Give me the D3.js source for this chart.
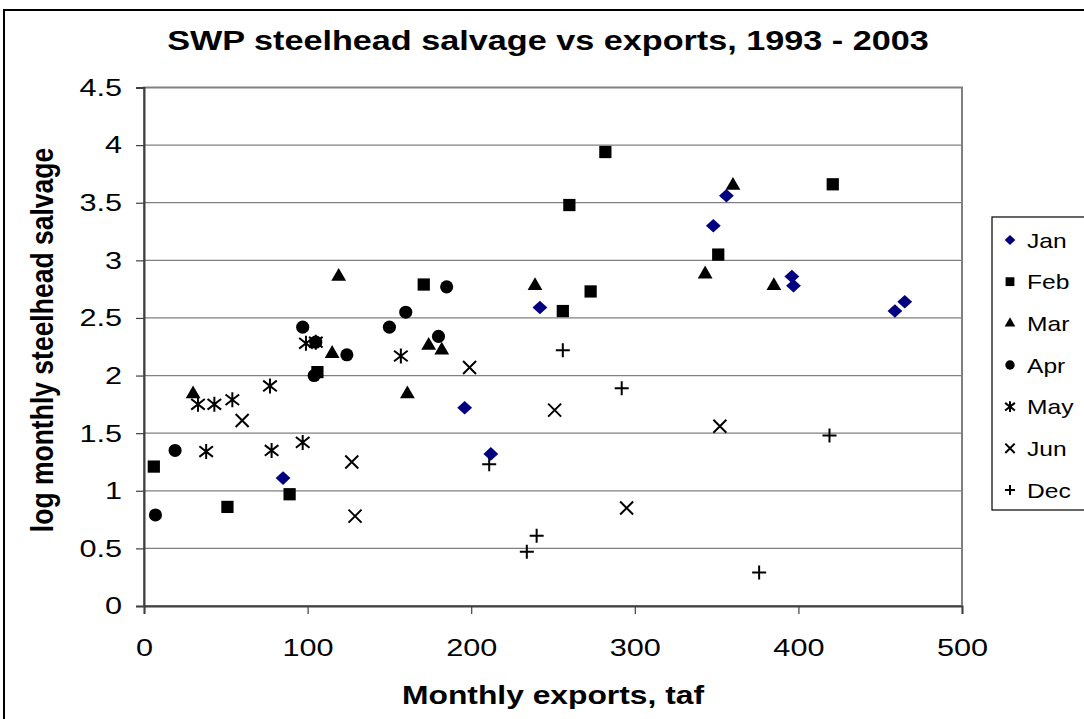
<!DOCTYPE html>
<html>
<head>
<meta charset="utf-8">
<script src="https://cdn.jsdelivr.net/npm/d3@7/dist/d3.min.js"></script>
<style>
  body { margin: 0; background: #fff; }
  svg { display: block; }
  text { font-family: "Liberation Sans", Arial, sans-serif; fill: #000; }
</style>
</head>
<body>
<svg id="chart" width="1084" height="719"></svg>
<script>
// Monthly exports (taf) vs log10 monthly steelhead salvage, SWP 1993-2003
const seriesNames = ["Jan", "Feb", "Mar", "Apr", "May", "Jun", "Dec"];

const janPoints = [[85, 1.11], [196, 1.72], [212, 1.32], [242, 2.59], [348, 3.30],
                   [356, 3.56], [396, 2.86], [397, 2.78], [459, 2.56], [465, 2.64]];
const febPoints = [[6, 1.21], [51, 0.86], [89, 0.97], [106, 2.03], [171, 2.79],
                   [256, 2.56], [260, 3.48], [273, 2.73], [282, 3.94], [351, 3.05], [421, 3.66]];
const marPoints = [[30, 1.84], [119, 2.86], [115, 2.19], [161, 1.84], [174, 2.26],
                   [182, 2.22], [239, 2.78], [343, 2.88], [360, 3.65], [385, 2.78]];
const aprPoints = [[7, 0.79], [19, 1.35], [97, 2.42], [104, 2.00], [105, 2.29],
                   [124, 2.18], [150, 2.42], [160, 2.55], [180, 2.34], [185, 2.77]];
const mayPoints = [[33, 1.75], [43, 1.75], [54, 1.79], [38, 1.34], [77, 1.91],
                   [78, 1.35], [97, 1.42], [99, 2.28], [105, 2.29], [157, 2.17]];
const junPoints = [[60, 1.61], [127, 1.25], [129, 0.78], [199, 2.07], [251, 1.70],
                   [295, 0.85], [352, 1.56]];
const decPoints = [[211, 1.23], [234, 0.47], [240, 0.61], [256, 2.22], [292, 1.89],
                   [376, 0.29], [419, 1.48]];

const xTicks = [0, 100, 200, 300, 400, 500];
const yTicks = [0, 0.5, 1, 1.5, 2, 2.5, 3, 3.5, 4, 4.5];

const titleText = "SWP steelhead salvage vs exports, 1993 - 2003";
const xTitle = "Monthly exports, taf";
const yTitle = "log monthly steelhead salvage";

const series = [
  { name: seriesNames[0], points: janPoints, marker: "diamond",  color: "#000080" },
  { name: seriesNames[1], points: febPoints, marker: "square",   color: "#000" },
  { name: seriesNames[2], points: marPoints, marker: "triangle", color: "#000" },
  { name: seriesNames[3], points: aprPoints, marker: "circle",   color: "#000" },
  { name: seriesNames[4], points: mayPoints, marker: "star",     color: "#000" },
  { name: seriesNames[5], points: junPoints, marker: "cross",    color: "#000" },
  { name: seriesNames[6], points: decPoints, marker: "plus",     color: "#000" }
];

// Text in this chart is rendered slightly wide
const SX = 1.2;
const TICK_SX = 1.25;

const svg = d3.select("#chart");
const plot = { left: 144, right: 962, top: 87.5, bottom: 606 };

const x = d3.scaleLinear().domain([0, 500]).range([plot.left, plot.right]);
const y = d3.scaleLinear().domain([0, 4.5]).range([plot.bottom, plot.top]);

// outer chart frame
svg.append("path")
  .attr("d", "M4,719 L4,10 L1084,10")
  .attr("fill", "none").attr("stroke", "#000").attr("stroke-width", 2);

// plot area
svg.append("rect")
  .attr("x", plot.left).attr("y", plot.top)
  .attr("width", plot.right - plot.left).attr("height", plot.bottom - plot.top)
  .attr("fill", "#fff").attr("stroke", "#808080").attr("stroke-width", 2);

// horizontal gridlines
svg.append("g").selectAll("line")
  .data(yTicks.filter(d => d > 0))
  .join("line")
  .attr("x1", plot.left).attr("x2", plot.right)
  .attr("y1", d => y(d)).attr("y2", d => y(d))
  .attr("stroke", "#808080").attr("stroke-width", 1.2);

// axes
const yAxis = svg.append("g")
  .attr("transform", `translate(${plot.left},0)`)
  .call(d3.axisLeft(y).tickValues(yTicks).tickSize(8).tickPadding(14).tickFormat(d3.format("")));
const xAxis = svg.append("g")
  .attr("transform", `translate(0,${plot.bottom})`)
  .call(d3.axisBottom(x).tickValues(xTicks).tickSize(8).tickPadding(25).tickFormat(d3.format("")));

[yAxis, xAxis].forEach(g => {
  g.select(".domain").attr("stroke", "#404040").attr("stroke-width", 2);
  g.selectAll(".tick line").attr("stroke", "#404040").attr("stroke-width", 1.2);
  g.selectAll(".tick text")
    .attr("font-size", 24.5)
    .attr("font-family", '"Liberation Sans", Arial, sans-serif')
    .attr("fill", "#000");
});
yAxis.selectAll(".tick text").each(function () {
  const t = d3.select(this);
  t.attr("x", +t.attr("x") / TICK_SX).attr("transform", `scale(${TICK_SX},1)`);
});
xAxis.selectAll(".tick text").attr("transform", `scale(${TICK_SX},1)`);

// marker shapes
function markerPath(kind, s) {
  switch (kind) {
    case "diamond":
      return `M0,${-6.8 * s}L${7.4 * s},0L0,${6.8 * s}L${-7.4 * s},0Z`;
    case "square":
      return d3.symbol(d3.symbolSquare, 150 * s * s)();
    case "triangle":
      return d3.symbol(d3.symbolTriangle, 95 * s * s)();
    case "circle":
      return d3.symbol(d3.symbolCircle, 135 * s * s)();
    case "star": {
      const r = 7.5 * s, a = 6.8 * s, b = 5.3 * s;
      return `M0,${-r}L0,${r}M${-a},${-b}L${a},${b}M${-a},${b}L${a},${-b}`;
    }
    case "cross": {
      const r = 6.5 * s;
      return `M${-r},${-r}L${r},${r}M${-r},${r}L${r},${-r}`;
    }
    case "plus": {
      const r = 7 * s;
      return `M${-r},0L${r},0M0,${-r}L0,${r}`;
    }
  }
}
const lineMarkers = new Set(["star", "cross", "plus"]);

function styleMarker(sel, d) {
  if (lineMarkers.has(d.marker)) {
    sel.attr("fill", "none").attr("stroke", d.color).attr("stroke-width", 2);
  } else {
    sel.attr("fill", d.color).attr("stroke", "none");
  }
}

// points
const pointLayer = svg.append("g");
series.forEach(s => {
  pointLayer.append("g").selectAll("path")
    .data(s.points)
    .join("path")
    .attr("d", markerPath(s.marker, 1))
    .attr("transform", p => `translate(${x(p[0])},${y(p[1])})`)
    .call(sel => styleMarker(sel, s));
});

// title
svg.append("text")
  .attr("transform", `translate(548,50) scale(${SX},1)`)
  .attr("text-anchor", "middle")
  .attr("font-size", 28.5).attr("font-weight", "bold")
  .text(titleText);

// axis titles
svg.append("text")
  .attr("transform", `translate(553,704) scale(${SX},1)`)
  .attr("text-anchor", "middle")
  .attr("font-size", 26.5).attr("font-weight", "bold")
  .text(xTitle);
svg.append("text")
  .attr("transform", `translate(53,340) scale(${SX},1) rotate(-90)`)
  .attr("text-anchor", "middle")
  .attr("font-size", 26.5).attr("font-weight", "bold")
  .text(yTitle);

// legend
const legend = svg.append("g");
legend.append("rect")
  .attr("x", 992).attr("y", 217).attr("width", 120).attr("height", 293)
  .attr("fill", "#fff").attr("stroke", "#000").attr("stroke-width", 1.2);
const rowY = d3.scalePoint().domain(seriesNames).range([240, 490]);
const rows = legend.selectAll("g.row")
  .data(series)
  .join("g")
  .attr("class", "row")
  .attr("transform", d => `translate(0,${rowY(d.name)})`);
rows.append("path")
  .attr("transform", "translate(1010,0)")
  .attr("d", d => markerPath(d.marker, 0.72))
  .each(function (d) { styleMarker(d3.select(this), d); });
rows.append("text")
  .attr("transform", `translate(1027,7.5) scale(${SX},1)`)
  .attr("font-size", 20.5)
  .text(d => d.name);
</script>
</body>
</html>
